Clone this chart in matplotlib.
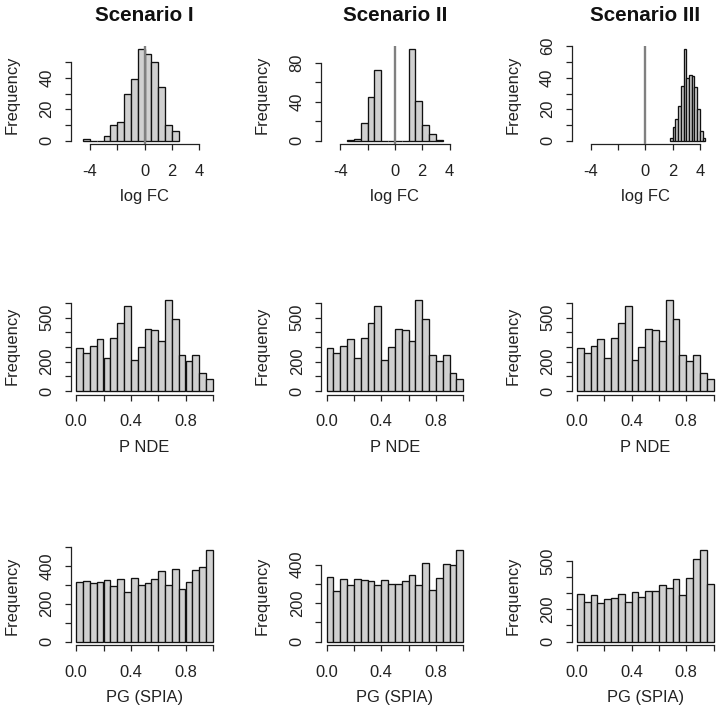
import matplotlib
matplotlib.use('Agg')
import matplotlib.pyplot as plt

plt.rcParams['font.family'] = ['Liberation Sans', 'DejaVu Sans']

# ---------------- data ----------------
titles = ['Scenario I', 'Scenario II', 'Scenario III']

# log fold change histograms: left bin edges, bin widths, counts
logfc_left_I = [-4.5, -4.0, -3.5, -3.0, -2.5, -2.0, -1.5, -1.0, -0.5, 0.0, 0.5, 1.0, 1.5, 2.0]
logfc_count_I = [1, 0, 0, 3, 10, 12, 30, 39, 58, 55, 50, 34, 10, 6]
logfc_left_II = [-3.5, -3.0, -2.5, -2.0, -1.5, -1.0, -0.5, 0.0, 0.5, 1.0, 1.5, 2.0, 2.5, 3.0]
logfc_count_II = [1, 2, 18, 45, 73, 0, 0, 0, 0, 94, 41, 16, 7, 1]
logfc_left_III = [1.8, 2.0, 2.2, 2.4, 2.6, 2.8, 3.0, 3.2, 3.4, 3.6, 3.8, 4.0, 4.2]
logfc_count_III = [2, 9, 14, 22, 35, 58, 40, 42, 41, 34, 20, 6, 2]
logfc_binwidth = [0.5, 0.5, 0.2]

# probability histograms (bins of 0.05 on [0, 1])
prob_left = [0.00, 0.05, 0.10, 0.15, 0.20, 0.25, 0.30, 0.35, 0.40, 0.45,
             0.50, 0.55, 0.60, 0.65, 0.70, 0.75, 0.80, 0.85, 0.90, 0.95]
prob_binwidth = 0.05
pnde_count = [291, 257, 309, 357, 225, 364, 466, 575, 211, 302,
              420, 414, 341, 620, 489, 248, 205, 245, 125, 80]
pg_count_I = [317, 319, 308, 317, 323, 291, 332, 261, 335, 301,
              308, 328, 371, 298, 385, 277, 317, 376, 394, 482]
pg_count_II = [335, 262, 323, 295, 327, 321, 314, 293, 321, 302,
               302, 314, 344, 295, 410, 269, 332, 402, 397, 475]
pg_count_III = [298, 248, 286, 242, 267, 273, 298, 248, 309, 277,
                315, 311, 351, 330, 389, 288, 393, 515, 567, 357]

# axis ticks and labels
logfc_xticks = [-4, -2, 0, 2, 4]
logfc_xticklabels = ['-4', '', '0', '2', '4']
prob_xticks = [0.0, 0.2, 0.4, 0.6, 0.8, 1.0]
prob_xticklabels = ['0.0', '', '0.4', '', '0.8', '']

yticks_logfc = [[0, 10, 20, 30, 40, 50], [0, 20, 40, 60, 80], [0, 10, 20, 30, 40, 50, 60]]
yticklabels_logfc = [['0', '', '20', '', '40', ''], ['0', '', '40', '', '80'],
                     ['0', '', '20', '', '40', '', '60']]
yticks_pnde = [0, 100, 200, 300, 400, 500, 600]
yticklabels_pnde = ['0', '', '200', '', '', '500', '']
yticks_pg = [[0, 100, 200, 300, 400, 500], [0, 100, 200, 300, 400], [0, 100, 200, 300, 400, 500]]
yticklabels_pg = [['0', '', '200', '', '400', ''], ['0', '', '200', '', '400'],
                  ['0', '', '200', '', '', '500']]

xlabels_rows = ['log FC', 'P NDE', 'PG (SPIA)']

# ---------------- layout / style ----------------
W, H = 720, 714
DPI = 100
fig = plt.figure(figsize=(W / DPI, H / DPI), dpi=DPI)

PX = 72.0 / DPI  # points per pixel
FS = 16.5 * PX
TFS = 20.6 * PX
FILL = '#D0D0D0'
LEFT0, TOP0, STEP = 70.7, 45.8, 250.4
AW, AH = 147.6, 98.6


def panel(r, c, left, counts, width, xlim, xticks, xticklabels, yticks, yticklabels,
          xlabel, title=None, vline=False):
    L = LEFT0 + STEP * c
    T = TOP0 + STEP * r
    ax = fig.add_axes([L / W, 1 - (T + AH) / H, AW / W, AH / H])
    ax.bar(left, counts, width=width, align='edge', color=FILL,
           edgecolor='#111111', linewidth=0.95, zorder=2)
    ymax = max(counts)
    ax.set_xlim(*xlim)
    ax.set_ylim(-0.04 * ymax, 1.04 * ymax)
    if vline:
        ax.axvline(0, color='#808080', linewidth=1.7, zorder=3)
    for s in ['top', 'right']:
        ax.spines[s].set_visible(False)
    for s in ['left', 'bottom']:
        ax.spines[s].set_linewidth(0.9)
        ax.spines[s].set_color('#222222')
    ax.spines['left'].set_bounds(yticks[0], yticks[-1])
    ax.spines['bottom'].set_bounds(xticks[0], xticks[-1])
    ax.set_xticks(xticks, xticklabels)
    ax.set_yticks(yticks, yticklabels)
    ax.tick_params(direction='out', length=6 * PX, width=0.9, color='#222222',
                   labelsize=FS, labelcolor='#222222')
    ax.tick_params(axis='x', pad=25.6 * PX)
    ax.tick_params(axis='y', pad=13.4 * PX)
    for t in ax.get_xticklabels():
        t.set_va('baseline')
    for t in ax.get_yticklabels():
        t.set_rotation(90)
        t.set_rotation_mode('anchor')
        t.set_ha('center')
        t.set_va('baseline')
    ax.set_xlabel(xlabel, fontsize=FS, va='baseline', color='#222222')
    ax.xaxis.set_label_coords(0.5, -57.0 / AH)
    ax.set_ylabel('Frequency', fontsize=FS, va='baseline', color='#222222')
    ax.yaxis.set_label_coords(-54.0 / AW, 0.5)
    if title:
        ax.text(0.5, 1 + 25.0 / AH, title, transform=ax.transAxes, ha='center',
                va='baseline', fontsize=TFS, fontweight='bold', color='#111111')
    return ax


logfc_left = [logfc_left_I, logfc_left_II, logfc_left_III]
logfc_count = [logfc_count_I, logfc_count_II, logfc_count_III]
pg_count = [pg_count_I, pg_count_II, pg_count_III]

for c in range(3):
    panel(0, c, logfc_left[c], logfc_count[c], logfc_binwidth[c], (-5.4, 5.4),
          logfc_xticks, logfc_xticklabels, yticks_logfc[c], yticklabels_logfc[c],
          xlabels_rows[0], title=titles[c], vline=True)
    panel(1, c, prob_left, pnde_count, prob_binwidth, (-0.04, 1.04),
          prob_xticks, prob_xticklabels, yticks_pnde, yticklabels_pnde, xlabels_rows[1])
    panel(2, c, prob_left, pg_count[c], prob_binwidth, (-0.04, 1.04),
          prob_xticks, prob_xticklabels, yticks_pg[c], yticklabels_pg[c], xlabels_rows[2])

fig.savefig('out.png', dpi=DPI)
